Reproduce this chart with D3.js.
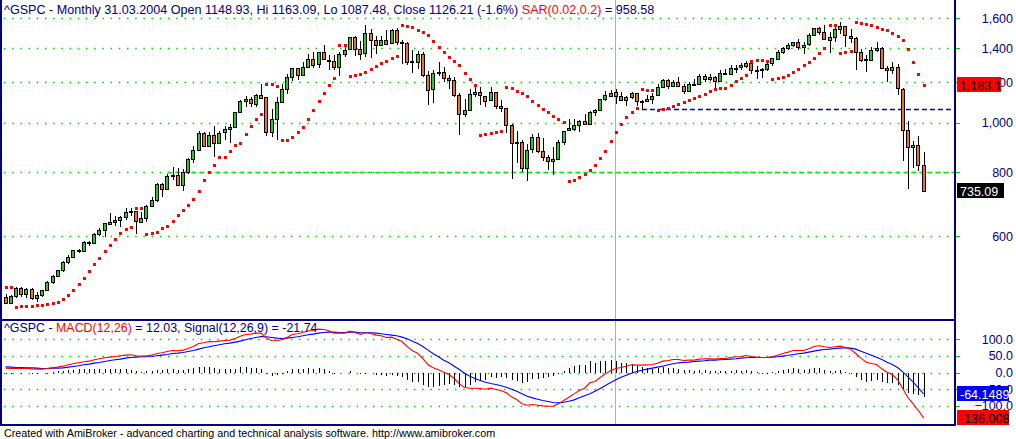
<!DOCTYPE html>
<html><head><meta charset="utf-8">
<script src="https://cdn.jsdelivr.net/npm/d3@7"></script>
<style>body{margin:0;background:#fff}svg{display:block}text{font-family:'Liberation Sans',Arial,sans-serif}</style>
</head><body><svg id="c" width="1016" height="439"></svg>
<script>
// ---- data: ^GSPC monthly, Jun 1994 .. Feb 2009 ----
const openVals=[456.50,444.27,458.26,475.49,462.69,472.35,453.69,
459.27,470.42,487.39,500.71,514.71,533.40,544.75,562.06,561.88,584.41,581.50,605.37,
615.93,636.02,640.43,645.50,654.17,669.12,670.63,639.95,651.99,687.31,705.27,757.02,
740.74,786.16,790.82,757.12,801.34,848.28,885.14,954.29,899.47,947.28,914.62,955.40,
970.43,980.28,1049.34,1101.75,1111.75,1090.82,1133.84,1120.67,957.28,1017.01,1098.67,1163.63,
1229.23,1279.64,1238.33,1286.37,1335.18,1301.84,1372.71,1328.72,1320.41,1282.71,1362.93,1388.91,
1469.25,1394.46,1366.42,1498.58,1452.43,1420.60,1454.60,1430.83,1517.68,1436.51,1429.40,1314.95,
1320.28,1366.01,1239.94,1160.33,1249.46,1255.82,1224.42,1211.23,1133.58,1040.94,1059.78,1139.45,
1148.08,1130.20,1106.73,1147.39,1076.92,1067.14,989.82,911.62,916.07,815.28,885.76,936.31,
879.82,855.70,841.15,848.18,916.92,963.59,974.50,990.31,1008.01,995.97,1050.71,1058.20,
1111.92,1131.13,1148.93,1126.21,1107.30,1120.68,1140.84,1101.72,1104.24,1114.58,1130.20,1173.82,
1211.92,1181.27,1203.60,1180.59,1156.85,1191.50,1191.33,1234.18,1220.33,1228.81,1207.01,1249.48,
1248.29,1280.08,1280.66,1294.83,1310.61,1270.09,1270.20,1276.66,1303.82,1335.85,1377.94,1400.63,
1418.30,1438.24,1406.82,1420.86,1482.37,1530.62,1503.35,1455.27,1473.99,1526.75,1545.79,1481.14,
1468.36,1378.55,1330.63,1322.70,1385.59,1400.38,1280.00,1267.38,1282.83,1166.36,968.75,896.24,
903.25,825.88];
const highVals=[462.12,459.50,477.59,476.60,474.46,473.78,466.00,
471.36,489.19,503.90,514.87,535.96,551.07,563.84,565.00,586.24,587.61,608.27,622.88,
636.18,664.23,656.97,656.03,680.32,680.32,672.61,670.00,690.88,714.10,762.12,762.12,
794.67,817.68,814.90,812.93,851.87,898.70,961.28,961.10,960.46,983.12,963.04,986.25,
992.65,1051.00,1105.65,1130.52,1123.95,1138.49,1190.58,1121.00,1066.11,1122.31,1193.19,1244.93,
1280.00,1281.65,1316.55,1362.99,1375.98,1374.80,1420.33,1357.54,1358.88,1373.17,1410.12,1473.10,
1478.00,1444.55,1552.87,1527.19,1481.51,1477.26,1517.32,1525.21,1530.09,1454.82,1438.46,1389.06,
1383.37,1376.38,1263.47,1269.30,1315.93,1286.62,1239.78,1226.27,1143.12,1110.61,1163.38,1173.00,
1176.55,1130.20,1173.03,1147.84,1106.59,1070.00,994.46,965.00,924.02,907.44,951.57,954.28,
935.05,864.64,895.90,924.24,965.38,1015.33,1015.41,1011.01,1040.29,1053.79,1063.65,1112.56,
1155.38,1158.98,1163.09,1150.57,1127.74,1146.34,1140.84,1109.68,1131.54,1142.05,1188.46,1217.33,
1217.80,1212.44,1229.11,1191.88,1199.56,1219.59,1245.15,1245.86,1243.13,1233.34,1270.64,1275.80,
1294.90,1297.57,1310.88,1318.16,1326.70,1290.68,1280.42,1306.74,1340.28,1389.45,1407.89,1431.81,
1441.61,1461.57,1438.89,1498.02,1535.56,1540.56,1555.90,1503.89,1538.74,1576.09,1545.79,1523.57,
1471.77,1396.02,1359.68,1404.57,1440.24,1404.05,1292.17,1313.15,1303.04,1167.03,1007.51,918.85,
943.85,877.86];
const lowVals=[442.88,443.00,454.50,456.30,454.60,449.43,445.10,
454.98,469.29,483.60,500.00,511.00,530.00,544.00,554.50,558.50,573.00,579.50,601.00,
597.29,633.70,627.60,624.10,645.00,658.00,605.88,639.50,639.00,684.00,701.00,716.70,
737.00,773.40,756.10,733.50,793.20,832.20,881.00,896.00,897.60,855.27,912.50,926.40,
912.83,980.28,1047.00,1075.00,1074.39,1074.39,1114.30,939.98,939.69,923.32,1098.67,1137.20,
1205.46,1211.72,1234.66,1282.50,1281.41,1277.50,1328.72,1268.00,1268.37,1233.70,1342.40,1387.40,
1350.14,1325.07,1346.62,1339.40,1361.09,1420.60,1416.50,1430.83,1419.44,1305.79,1294.90,1254.07,
1274.62,1228.42,1081.19,1091.99,1232.00,1203.03,1165.54,1124.87,944.75,1026.76,1054.31,1124.70,
1081.66,1074.36,1106.73,1063.46,1048.96,952.92,775.68,833.44,800.20,768.63,872.22,871.80,
840.34,806.29,788.90,847.85,902.83,963.59,962.10,960.84,990.36,995.97,1031.20,1058.20,
1105.08,1124.44,1087.48,1105.85,1076.32,1113.32,1078.78,1060.72,1101.29,1090.19,1127.60,1173.82,
1163.75,1180.00,1176.92,1136.15,1146.18,1188.30,1183.55,1201.07,1205.35,1168.20,1201.07,1246.59,
1245.74,1253.61,1268.42,1280.74,1245.34,1219.29,1224.54,1261.30,1290.93,1327.10,1360.98,1385.93,
1403.97,1389.42,1363.98,1416.37,1476.70,1484.18,1454.25,1370.60,1439.29,1489.64,1406.10,1435.65,
1270.05,1316.75,1256.98,1320.00,1373.07,1272.00,1200.44,1247.45,1133.50,839.80,741.02,815.69,
804.30,734.52];
const closeVals=[444.27,458.26,475.49,462.69,472.35,453.69,459.27,
470.42,487.39,500.71,514.71,533.40,544.75,562.06,561.88,584.41,581.50,605.37,615.93,
636.02,640.43,645.50,654.17,669.12,670.63,639.95,651.99,687.31,705.27,757.02,740.74,
786.16,790.82,757.12,801.34,848.28,885.14,954.29,899.47,947.28,914.62,955.40,970.43,
980.28,1049.34,1101.75,1111.75,1090.82,1133.84,1120.67,957.28,1017.01,1098.67,1163.63,1229.23,
1279.64,1238.33,1286.37,1335.18,1301.84,1372.71,1328.72,1320.41,1282.71,1362.93,1388.91,1469.25,
1394.46,1366.42,1498.58,1452.43,1420.60,1454.60,1430.83,1517.68,1436.51,1429.40,1314.95,1320.28,
1366.01,1239.94,1160.33,1249.46,1255.82,1224.42,1211.23,1133.58,1040.94,1059.78,1139.45,1148.08,
1130.20,1106.73,1147.39,1076.92,1067.14,989.82,911.62,916.07,815.28,885.76,936.31,879.82,
855.70,841.15,848.18,916.92,963.59,974.50,990.31,1008.01,995.97,1050.71,1058.20,1111.92,
1131.13,1144.94,1126.21,1107.30,1120.68,1140.84,1101.72,1104.24,1114.58,1130.20,1173.82,1211.92,
1181.27,1203.60,1180.59,1156.85,1191.50,1191.33,1234.18,1220.33,1228.81,1207.01,1249.48,1248.29,
1280.08,1280.66,1294.83,1310.61,1270.09,1270.20,1276.66,1303.82,1335.85,1377.94,1400.63,1418.30,
1438.24,1406.82,1420.86,1482.37,1530.62,1503.35,1455.27,1473.99,1526.75,1549.38,1481.14,1468.36,
1378.55,1330.63,1322.70,1385.59,1400.38,1280.00,1267.38,1282.83,1166.36,968.75,896.24,903.25,
825.88,735.09];
const sarVals=[477,476,436,437,438,438,439,
440,441,443,446,452,460,471,484,497,513,528,544,
560,575,593,607,619,624,680,680,606,608,612,621,
629,643,660,676,690,709,736,772,802,828,855,855,
881,904,913,951,987,1016,1040,1191,1191,1181,923,923,
936,957,983,1016,1058,1102,1141,1185,1223,1420,1417,1234,
1238,1248,1257,1275,1292,1307,1322,1336,1349,1553,1548,1538,
1521,1505,1483,1443,1406,1374,1345,1318,1295,1253,1216,1183,
945,949,954,958,963,1177,1172,1156,1141,1126,1105,1085,
1066,1048,1031,1015,1001,769,774,783,793,807,827,851,
882,920,959,995,1026,1050,1071,1163,1161,1159,1061,1063,
1069,1078,1087,1098,1109,1118,1127,1139,1152,1163,1168,1168,
1185,1205,1224,1241,1318,1327,1327,1322,1219,1222,1228,1239,
1255,1273,1296,1316,1341,1372,1403,1556,1556,1371,1375,1379,
1576,1570,1564,1552,1540,1529,1518,1499,1481,1453,1392,1314,
1245,1184];
const macdVals=[13,12,13,12,13,11,10,
10,12,14,16,19,23,26,29,32,34,38,41,
44,46,48,50,52,53,50,49,50,52,57,59,
63,66,65,67,72,78,87,89,93,92,94,96,
97,102,109,114,115,118,118,103,96,95,99,106,
114,116,120,125,126,130,129,125,118,118,118,124,
120,114,119,117,112,110,105,106,100,93,78,65,
58,42,23,14,8,1,-6,-18,-34,-45,-47,-47,
-48,-50,-47,-51,-54,-61,-73,-81,-94,-98,-96,-98,
-100,-101,-101,-94,-84,-74,-64,-54,-47,-31,-27,-15,
-4,6,12,15,19,23,22,22,23,24,28,34,
36,39,39,36,37,37,40,41,41,40,42,42,
45,47,48,51,48,46,45,45,47,52,57,61,
66,66,66,71,78,80,77,75,77,79,75,70,
57,43,31,27,24,11,1,-6,-21,-48,-75,-94,
-114,-136];
const signalVals=[17,16,15,15,14,14,13,
12,12,13,13,14,16,18,20,23,25,28,30,
33,36,38,40,43,45,46,47,47,48,50,52,
54,57,58,60,63,66,70,74,77,80,83,86,
88,91,94,98,102,105,108,107,105,103,102,103,
105,107,110,113,115,118,120,121,121,120,120,121,
121,119,119,119,118,116,114,112,110,106,101,94,
87,78,67,56,47,37,29,19,9,-2,-11,-18,
-24,-29,-33,-36,-40,-44,-50,-56,-64,-71,-76,-80,
-84,-87,-90,-91,-89,-86,-82,-76,-70,-64,-56,-48,
-39,-30,-22,-14,-8,-2,3,7,10,13,16,19,
23,26,29,30,31,33,34,35,37,37,38,39,
40,41,43,44,45,45,45,45,46,47,49,51,
54,56,58,61,64,67,69,70,72,73,74,73,
70,64,58,52,46,39,31,24,15,2,-13,-29,
-46,-64];
const histVals=[-4,-4,-2,-3,-1,-3,-3,
-2,0,1,3,5,7,8,9,9,9,10,11,
11,10,10,10,9,8,4,2,3,4,7,7,
9,9,7,7,9,12,17,15,16,12,11,10,
9,11,15,16,13,13,10,-4,-9,-8,-3,3,
9,9,10,12,11,12,9,4,-3,-2,-2,3,
-1,-5,0,-2,-6,-6,-9,-6,-10,-13,-23,-29,
-29,-36,-44,-42,-39,-36,-35,-37,-43,-43,-36,-29,
-24,-21,-14,-15,-14,-17,-23,-25,-30,-27,-20,-18,
-16,-14,-11,-3,5,12,18,22,23,33,29,33,
35,36,34,29,27,25,19,15,13,11,12,15,
13,13,10,6,6,4,6,6,4,3,4,3,
5,6,5,7,3,1,0,0,1,5,8,10,
12,10,8,10,14,13,8,5,5,6,1,-3,
-13,-21,-27,-25,-22,-28,-30,-30,-36,-50,-62,-65,
-68,-72];
const priceTicks=[600,800,1000,1200,1400,1600];
const macdTicks=[100,50,0,-50,-100];
const levelValues=[799,1062];          // drawn horizontal levels
const levelStartMonth=[31,122];        // bar index where each level starts
const selectedBar=117;                 // 31.03.2004
const lastLabelsPrice=[{v:1183.1,t:"1,183.1"},{v:735.09,t:"735.09"}];
const lastLabelsMacd=[{v:-64.1489,t:"-64.1489"},{v:-136.008,t:"-136.008"}];
const titleMain=["^GSPC - Monthly 31.03.2004 Open 1148.93, Hi 1163.09, Lo 1087.48, Close 1126.21 (-1.6%) ","SAR(0.02,0.2)"," = 958.58"];
const titleMacd=["^GSPC - ","MACD(12,26)"," = 12.03, ","Signal(12,26,9)"," = -21.74"];
const footer="Created with AmiBroker - advanced charting and technical analysis software. http://www.amibroker.com";

// ---- styles ----
const NAVY="#000080",RED="#ff0000",BLUE="#0000ff",UP="#2ec82e",DOWN="#f0702a",GRID="#00cc00";
const svg=d3.select("#c");
const months=d3.timeMonth.range(new Date(1994,5,1),new Date(2009,2,1));
const x=d3.scaleBand().domain(months).range([2.99,926.2]);
const cx=i=>x(months[i])+x.bandwidth()/2;
const y=d3.scaleLog().domain([412.7,1739]).range([319,0]);
const ym=d3.scaleLinear().domain([-157.4,160.4]).range([425,319]);
const plotR=955;

svg.append("rect").attr("width",1016).attr("height",439).attr("fill","#fff");

// gridlines
function grid(scale,ticks){
  const g=svg.append("g");
  g.selectAll("line.g").data(ticks).join("line").attr("x1",4).attr("x2",954)
   .attr("y1",d=>Math.round(scale(d))+0.5).attr("y2",d=>Math.round(scale(d))+0.5)
   .attr("stroke",GRID).attr("stroke-width",1.5).attr("stroke-dasharray","1.5,6.7");
  g.selectAll("line.t").data(ticks).join("line").attr("x1",956).attr("x2",960)
   .attr("y1",d=>Math.round(scale(d))+0.5).attr("y2",d=>Math.round(scale(d))+0.5)
   .attr("stroke",GRID).attr("stroke-width",1);
}
grid(y,priceTicks);grid(ym,macdTicks);

// selector line
svg.append("line").attr("x1",Math.round(cx(selectedBar))-0.5).attr("x2",Math.round(cx(selectedBar))-0.5)
  .attr("y1",0).attr("y2",425).attr("stroke","#a8a8ee").attr("stroke-width",1);

// level lines
const levCol=["#00e600","#0000c8"];
svg.selectAll("line.lev").data(levelValues).join("line")
  .attr("x1",(d,i)=>cx(levelStartMonth[i])).attr("x2",plotR-1)
  .attr("y1",d=>Math.round(y(d))+0.5).attr("y2",d=>Math.round(y(d))+0.5)
  .attr("stroke",(d,i)=>levCol[i]).attr("stroke-width",1.5).attr("stroke-dasharray","5,3");

// candles
const idx=d3.range(closeVals.length);
const cg=svg.append("g").attr("shape-rendering","crispEdges");
cg.selectAll("line").data(idx).join("line")
  .attr("x1",i=>Math.round(cx(i))+0.5).attr("x2",i=>Math.round(cx(i))+0.5)
  .attr("y1",i=>y(highVals[i])).attr("y2",i=>y(lowVals[i])).attr("stroke","#000");
cg.selectAll("rect").data(idx).join("rect")
  .attr("x",i=>Math.round(cx(i))-1.5).attr("width",3.2)
  .attr("y",i=>Math.round(y(Math.max(openVals[i],closeVals[i])))+0.5)
  .attr("height",i=>Math.max(1,Math.round(Math.abs(y(openVals[i])-y(closeVals[i])))))
  .attr("fill",i=>closeVals[i]>=openVals[i]?UP:DOWN).attr("stroke","#000").attr("stroke-width",1);

// SAR dots
svg.append("g").attr("shape-rendering","crispEdges").selectAll("rect").data(idx).join("rect")
  .attr("x",i=>Math.round(cx(i))-1).attr("y",i=>Math.round(y(sarVals[i]))-1)
  .attr("width",3).attr("height",3).attr("fill",RED);

// MACD histogram + lines
svg.append("g").attr("shape-rendering","crispEdges").selectAll("line").data(idx).join("line")
  .attr("x1",i=>Math.round(cx(i))+0.5).attr("x2",i=>Math.round(cx(i))+0.5)
  .attr("y1",ym(0)).attr("y2",i=>histVals[i]===0?ym(0)+1:ym(histVals[i])).attr("stroke","#000");
const ln=arr=>d3.line().x((d,i)=>cx(i)).y(d=>ym(d))(arr);
svg.append("path").attr("d",ln(signalVals)).attr("fill","none").attr("stroke",BLUE).attr("stroke-width",1.1);
svg.append("path").attr("d",ln(macdVals)).attr("fill","none").attr("stroke",RED).attr("stroke-width",1.1);

// frame
const frame=[[0,0,2,426],[954,0,2,426],[0,319,956,2],[0,424,956,2]];
svg.selectAll("rect.fr").data(frame).join("rect").attr("class","fr")
  .attr("x",d=>d[0]).attr("y",d=>d[1]).attr("width",d=>d[2]).attr("height",d=>d[3]).attr("fill",NAVY);

// axis labels
const fmtP=d3.format(","),fmtM=d3.format(".1f");
svg.selectAll("text.pl").data(priceTicks).join("text").attr("class","pl")
  .attr("x",1013).attr("y",d=>y(d)+4.6).attr("text-anchor","end").attr("font-size",12.5).attr("fill",NAVY).text(fmtP);
svg.selectAll("text.ml").data(macdTicks).join("text").attr("class","ml")
  .attr("x",1013).attr("y",d=>ym(d)+4.6).attr("text-anchor","end").attr("font-size",12.5).attr("fill",NAVY).text(fmtM);

// last-value boxes
function box(yv,w,bg,fg,t){
  const yy=Math.round(yv);
  svg.append("rect").attr("x",957).attr("y",yy-8).attr("width",w).attr("height",15).attr("fill",bg);
  svg.append("text").attr("x",960).attr("y",yy+4.5).attr("font-size",12.5).attr("fill",fg).text(t);
}
box(y(lastLabelsPrice[0].v),44,RED,"#000",lastLabelsPrice[0].t);
box(y(lastLabelsPrice[1].v),47,"#000","#fff",lastLabelsPrice[1].t);
box(ym(lastLabelsMacd[0].v),52,BLUE,"#fff",lastLabelsMacd[0].t);
box(ym(lastLabelsMacd[1].v),52,RED,"#000",lastLabelsMacd[1].t);

// titles
function title(parts,cols,xx,yy,target){
  const t=svg.append("text").attr("x",xx).attr("y",yy).attr("font-size",13);
  parts.forEach((p,i)=>t.append("tspan").attr("fill",cols[i]).text(p));
  t.attr("xml:space","preserve").style("white-space","pre");
  const w=t.node().getComputedTextLength();
  t.attr("font-size",13*target/w);
}
title(titleMain,[NAVY,RED,NAVY],4,13.5,651);
title(titleMacd,[NAVY,RED,NAVY,NAVY,NAVY],4,331.5,314);
title([footer],["#000"],4,436.5,492);
</script></body></html>
